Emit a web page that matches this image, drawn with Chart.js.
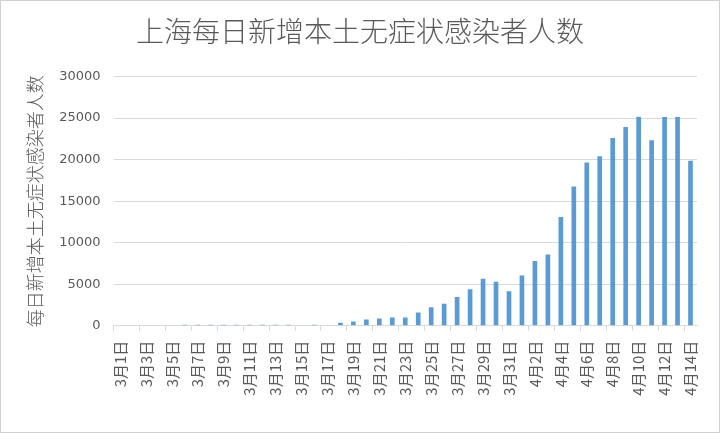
<!DOCTYPE html>
<html>
<head>
<meta charset="utf-8">
<script src="https://cdn.jsdelivr.net/npm/chart.js@4"></script>
<style>
html,body{margin:0;padding:0;background:#fff;}
#wrap{width:720px;height:433px;position:relative;}
</style>
</head>
<body>
<div id="wrap"><canvas id="c" width="720" height="433"></canvas></div>
<script>
// Categories (dates)
const marchLabels = ["3月1日","3月2日","3月3日","3月4日","3月5日","3月6日","3月7日","3月8日","3月9日","3月10日",
  "3月11日","3月12日","3月13日","3月14日","3月15日","3月16日","3月17日","3月18日","3月19日","3月20日",
  "3月21日","3月22日","3月23日","3月24日","3月25日","3月26日","3月27日","3月28日","3月29日","3月30日","3月31日"];
const aprilLabels = ["4月1日","4月2日","4月3日","4月4日","4月5日","4月6日","4月7日","4月8日","4月9日","4月10日",
  "4月11日","4月12日","4月13日","4月14日"];
// Values
const marchValues = [0,0,0,0,0,120,120,120,120,120,120,120,120,120,0,120,0,366,492,734,865,977,979,1580,2231,2631,3450,4381,5656,5298,4144];
const aprilValues = [6051,7788,8581,13086,16766,19660,20398,22609,23937,25173,22348,25141,25146,19872];
const yTicks = [0,5000,10000,15000,20000,25000,30000];
const chartTitle = "上海每日新增本土无症状感染者人数";
const yTitle = "每日新增本土无症状感染者人数";

const labels = marchLabels.concat(aprilLabels);
const values = marchValues.concat(aprilValues);

const textColor = '#595959';
const gridColor = '#d9d9d9';
const cjk = "'Noto Sans CJK SC', 'DejaVu Sans', sans-serif";

const framePlugin = {
  id: 'frame',
  beforeDraw(chart) {
    const ctx = chart.ctx;
    ctx.save();
    ctx.fillStyle = '#ffffff';
    ctx.fillRect(0, 0, chart.width, chart.height);
    ctx.restore();
  },
  afterDraw(chart) {
    const ctx = chart.ctx;
    ctx.save();
    ctx.strokeStyle = '#d0d0d0';
    ctx.lineWidth = 1;
    ctx.strokeRect(0.5, 0.5, chart.width - 1, chart.height - 1);
    ctx.restore();
  }
};

new Chart(document.getElementById('c'), {
  type: 'bar',
  data: {
    labels: labels,
    datasets: [{
      data: values,
      backgroundColor: '#5B9BD5',
      borderWidth: 0,
      categoryPercentage: 1.0,
      barPercentage: 0.36
    }]
  },
  options: {
    responsive: false,
    animation: false,
    devicePixelRatio: 1,
    layout: { padding: { left: 23, right: 23, top: 0, bottom: 0 } },
    plugins: {
      legend: { display: false },
      tooltip: { enabled: false },
      title: {
        display: true,
        text: chartTitle,
        color: textColor,
        font: { family: cjk, size: 28, weight: '300', lineHeight: 1.2 },
        padding: { top: 15, bottom: 28 }
      }
    },
    scales: {
      x: {
        offset: true,
        afterFit(s) { s.height = 107.3; },
        grid: {
          offset: true,
          drawOnChartArea: false,
          drawTicks: true,
          tickLength: 5,
          color: (ctx) => (ctx.index % 2 === 0 ? gridColor : 'rgba(0,0,0,0)'),
          lineWidth: 1
        },
        border: { display: true, color: gridColor, width: 1 },
        ticks: {
          autoSkip: false,
          maxRotation: 90,
          minRotation: 90,
          padding: 10,
          color: textColor,
          font: { family: cjk, size: 15 },
          callback: function(val, idx) { return idx % 2 === 0 ? this.getLabelForValue(val) : ''; }
        }
      },
      y: {
        min: 0,
        max: 30000,
        afterFit(s) { s.width = 90.5; },
        afterBuildTicks(s) { s.ticks = yTicks.map(v => ({ value: v })); },
        grid: { color: gridColor, lineWidth: 1, drawTicks: false },
        border: { display: false },
        ticks: {
          padding: 13,
          color: textColor,
          font: { family: "'DejaVu Sans', sans-serif", size: 13 },
          callback: (v) => String(v)
        },
        title: {
          display: true,
          text: yTitle,
          color: textColor,
          font: { family: cjk, size: 18, weight: '300', lineHeight: 1.2 },
          padding: { top: 1, bottom: 0 }
        }
      }
    }
  },
  plugins: [framePlugin]
});
</script>
</body>
</html>
